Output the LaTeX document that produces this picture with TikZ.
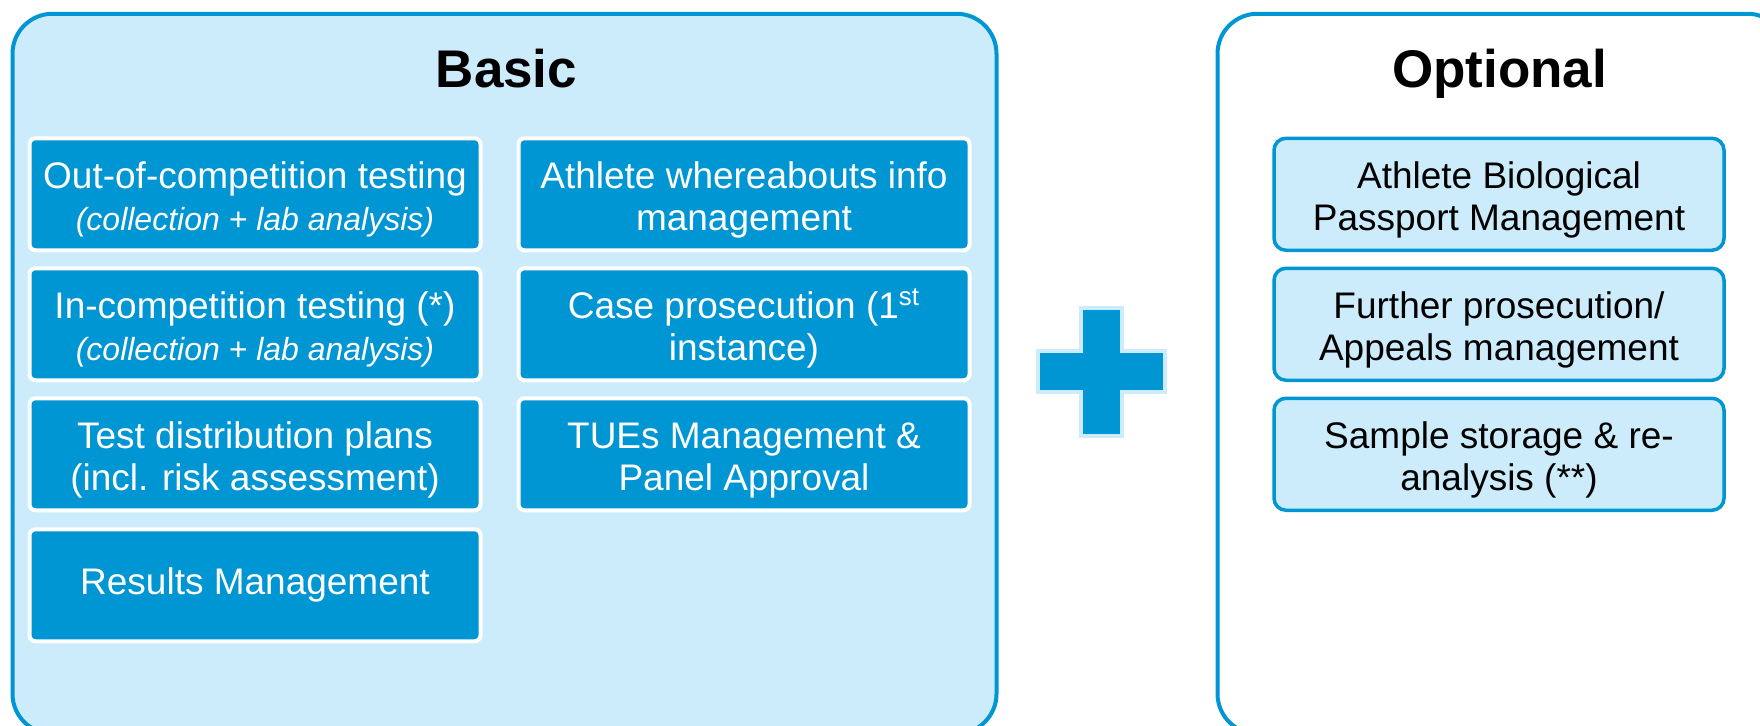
\documentclass[tikz,border=0pt]{standalone}
\usepackage{fontspec}
\setmainfont{Liberation Sans}
\definecolor{dkblue}{RGB}{0,149,211}
\definecolor{ltblue}{RGB}{204,236,252}
\newcommand\mytopstrut{\rule{0pt}{19pt}}
\begin{document}
\begin{tikzpicture}[x=0.5pt,y=-0.5pt,
  groupbox/.style={draw=dkblue, line width=2pt, rounded corners=20pt, inner sep=0pt},
  basicitem/.style={fill=dkblue, draw=white, line width=2pt, rounded corners=3pt,
    minimum width=225.5pt, minimum height=56pt, text=white, align=center,
    font=\fontsize{18.5}{21}\selectfont, inner sep=0pt},
  optitem/.style={fill=ltblue, draw=dkblue, line width=1.75pt, rounded corners=6pt,
    minimum width=225pt, minimum height=56pt, text=black, align=center,
    font=\fontsize{18.5}{21}\selectfont, inner sep=0pt},
  grouptitle/.style={font=\fontsize{26.5}{30}\selectfont\bfseries, anchor=base, inner sep=0pt}
]
\useasboundingbox (0,0) rectangle (1760,725);
\clip (0,0) rectangle (1760,725);

% group boxes
\node[groupbox, fill=ltblue, minimum width=492pt, minimum height=360pt] (basic) at (504.5,373.75) {};
\node[groupbox, fill=white, minimum width=285pt, minimum height=360pt] (optional) at (1502.5,373.75) {};

% titles
\node[grouptitle] (basictitle) at (506.5,87) {Basic};
\node[grouptitle] (optionaltitle) at (1499.5,87) {Optional};

% basic items, left column
\node[basicitem] (b1) at (255,194.25) {\mytopstrut Out-of-competition testing\\{\fontsize{16}{21}\selectfont\itshape (collection + lab analysis)}};
\node[basicitem] (b2) at (255,324.25) {\mytopstrut In-competition testing (*)\\{\fontsize{16}{21}\selectfont\itshape (collection + lab analysis)}};
\node[basicitem] (b3) at (255,454.25) {\mytopstrut Test distribution plans\\(incl. risk assessment)};
\node[basicitem] (b4) at (255,585.25) {Results Management};

% basic items, right column
\node[basicitem] (b5) at (744,194.25) {\mytopstrut Athlete whereabouts info\\management};
\node[basicitem] (b6) at (744,324.25) {\mytopstrut Case prosecution (1\textsuperscript{st}\\instance)};
\node[basicitem] (b7) at (744,454.25) {\mytopstrut TUEs Management \&\\Panel Approval};

% optional items
\node[optitem] (o1) at (1499,194.25) {\mytopstrut Athlete Biological\\Passport Management};
\node[optitem] (o2) at (1499,324.25) {\mytopstrut Further prosecution/\\Appeals management};
\node[optitem] (o3) at (1499,454.25) {\mytopstrut Sample storage \& re-\\analysis (**)};

% plus sign
\draw[draw=ltblue, fill=dkblue, line width=2pt]
  (1081,308) -- (1122,308) -- (1122,351) -- (1165,351) -- (1165,392) -- (1122,392)
  -- (1122,436) -- (1081,436) -- (1081,392) -- (1038,392) -- (1038,351) -- (1081,351) -- cycle;
\end{tikzpicture}
\end{document}
